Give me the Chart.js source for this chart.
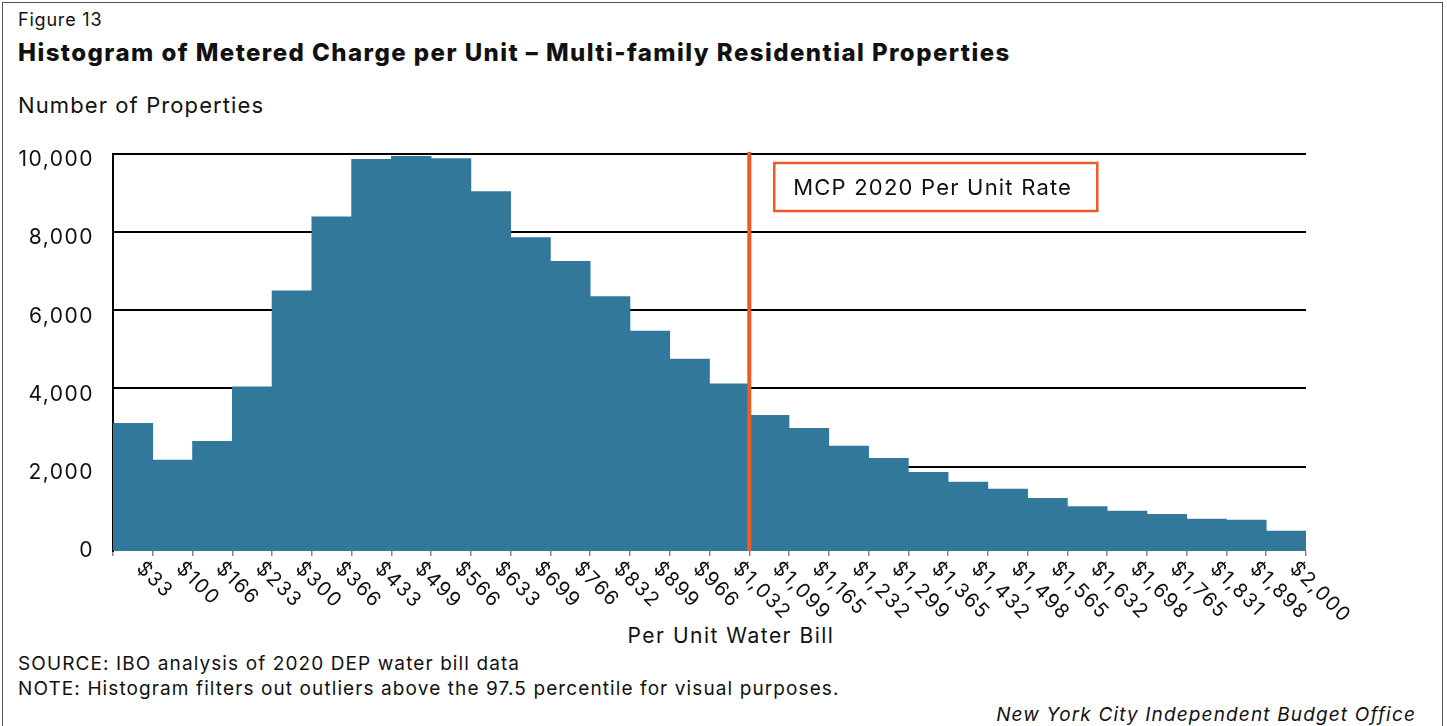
<!DOCTYPE html>
<html>
<head>
<meta charset="utf-8">
<script src="https://cdn.jsdelivr.net/npm/chart.js@4/dist/chart.umd.min.js"></script>
<style>
  html, body { margin: 0; padding: 0; background: #fff; }
  body { width: 1447px; height: 726px; position: relative; overflow: hidden; font-family: Inter, "Noto Sans", sans-serif; color: #111; }
  .frame { position: absolute; left: 2px; top: 2px; width: 1441px; height: 740px; border: 1.5px solid #555; box-sizing: border-box; }
  .txt { position: absolute; white-space: nowrap; }
  #fig { left: 18px; top: 9px; font-size: 18px; letter-spacing: 0.8px; }
  #title { left: 18px; top: 38px; font-size: 24px; font-weight: 800; letter-spacing: 1.45px; }
  #ylab { left: 18px; top: 92px; font-size: 22px; letter-spacing: 1.1px; }
  #xlab { left: 0; width: 1462px; text-align: center; top: 623px; font-size: 21px; letter-spacing: 1.5px; }
  #src { left: 18px; top: 652px; font-size: 19px; letter-spacing: 1.1px; }
  #note { left: 18px; top: 677px; font-size: 19px; letter-spacing: 1.1px; }
  #ibo { right: 31px; top: 703px; font-size: 19px; font-style: italic; letter-spacing: 1.15px; }
  canvas { position: absolute; left: 0; top: 0; }
</style>
</head>
<body>
<div class="frame"></div>
<div class="txt" id="fig">Figure 13</div>
<div class="txt" id="title">Histogram of Metered Charge per Unit – Multi-family Residential Properties</div>
<div class="txt" id="ylab">Number of Properties</div>
<div class="txt" id="xlab">Per Unit Water Bill</div>
<div class="txt" id="src">SOURCE: IBO analysis of 2020 DEP water bill data</div>
<div class="txt" id="note">NOTE: Histogram filters out outliers above the 97.5 percentile for visual purposes.</div>
<div class="txt" id="ibo">New York City Independent Budget Office</div>
<canvas id="grafico" width="1447" height="726"></canvas>
<script>
// bins are labelled by their upper edge
const bins = ['$33', '$100', '$166', '$233', '$300', '$366', '$433', '$499', '$566', '$633',
  '$699', '$766', '$832', '$899', '$966', '$1,032', '$1,099', '$1,165', '$1,232', '$1,299',
  '$1,365', '$1,432', '$1,498', '$1,565', '$1,632', '$1,698', '$1,765', '$1,831', '$1,898', '$2,000'];
const counts = [3105, 2166, 2644, 4041, 6496, 8389, 9864, 9941, 9882, 9038,
  7862, 7256, 6353, 5465, 4749, 4118, 3309, 2977, 2524, 2210,
  1852, 1604, 1425, 1189, 977, 862, 777, 657, 632, 350];
const yTicks = [0, 2000, 4000, 6000, 8000, 10000];
const rateBin = '$1,032';
const rateLabel = 'MCP 2020 Per Unit Rate';

const FONT = 'Inter, "Noto Sans", sans-serif';

// rotated bin labels + rate line + label box
const extras = {
  id: 'extras',
  beforeDraw(chart) {
    chart.ctx.letterSpacing = '1.5px';
  },
  afterDatasetsDraw(chart) {
    const { ctx, chartArea, scales: { x, y } } = chart;
    const half = x.width / bins.length / 2;

    ctx.save();
    ctx.fillStyle = '#111';
    ctx.font = '20px ' + FONT;
    ctx.textAlign = 'left';
    ctx.textBaseline = 'middle';
    bins.forEach((b, i) => {
      const px = x.getPixelForValue(i) + half;
      ctx.save();
      ctx.translate(px - 13, chartArea.bottom + 14);
      ctx.rotate(Math.PI / 4);
      ctx.fillText(b, 0, 0);
      ctx.restore();
    });

    const lx = x.getPixelForValue(bins.indexOf(rateBin)) + half;
    ctx.strokeStyle = '#f05a28';
    ctx.lineWidth = 4;
    ctx.beginPath();
    ctx.moveTo(lx, chartArea.top - 2);
    ctx.lineTo(lx, chartArea.bottom);
    ctx.stroke();

    const top = y.getPixelForValue(9770);
    const bottom = y.getPixelForValue(8540);
    ctx.lineWidth = 2.5;
    ctx.fillStyle = '#fff';
    ctx.fillRect(lx + 25, top, 323, bottom - top);
    ctx.strokeRect(lx + 25, top, 323, bottom - top);
    ctx.fillStyle = '#111';
    ctx.font = '22px ' + FONT;
    ctx.letterSpacing = '1.2px';
    ctx.fillText(rateLabel, lx + 44, (top + bottom) / 2 + 1);
    ctx.restore();
  }
};

const ctx = document.getElementById('grafico').getContext('2d');
new Chart(ctx, {
  type: 'bar',
  data: {
    labels: bins,
    datasets: [{
      data: counts,
      backgroundColor: '#31789a',
      borderWidth: 0,
      barPercentage: 1,
      categoryPercentage: 1,
      base: -160
    }]
  },
  options: {
    responsive: false,
    animation: false,
    devicePixelRatio: 1,
    layout: { padding: { left: 0, top: 154, right: 141, bottom: 175 } },
    plugins: { legend: { display: false }, tooltip: { enabled: false } },
    scales: {
      x: {
        offset: true,
        afterFit: s => { s.height = 0; },
        ticks: { display: false },
        border: { display: false },
        grid: { offset: true, drawOnChartArea: false, drawTicks: true, tickLength: 5, color: '#888', lineWidth: 1.5 }
      },
      y: {
        min: -160,
        max: 10000,
        afterFit: s => { s.width = 113; },
        afterBuildTicks: s => { s.ticks = yTicks.map(v => ({ value: v })); },
        ticks: {
          padding: 19,
          labelOffset: 6,
          color: '#111',
          font: { family: FONT, size: 21 },
          callback: v => v.toLocaleString('en-US')
        },
        border: { display: true, color: '#000', width: 2 },
        grid: {
          drawTicks: false,
          lineWidth: 2,
          color: c => (c.tick && c.tick.value === 0) ? 'rgba(0,0,0,0)' : '#000'
        }
      }
    }
  },
  plugins: [extras]
});
</script>
</body>
</html>
